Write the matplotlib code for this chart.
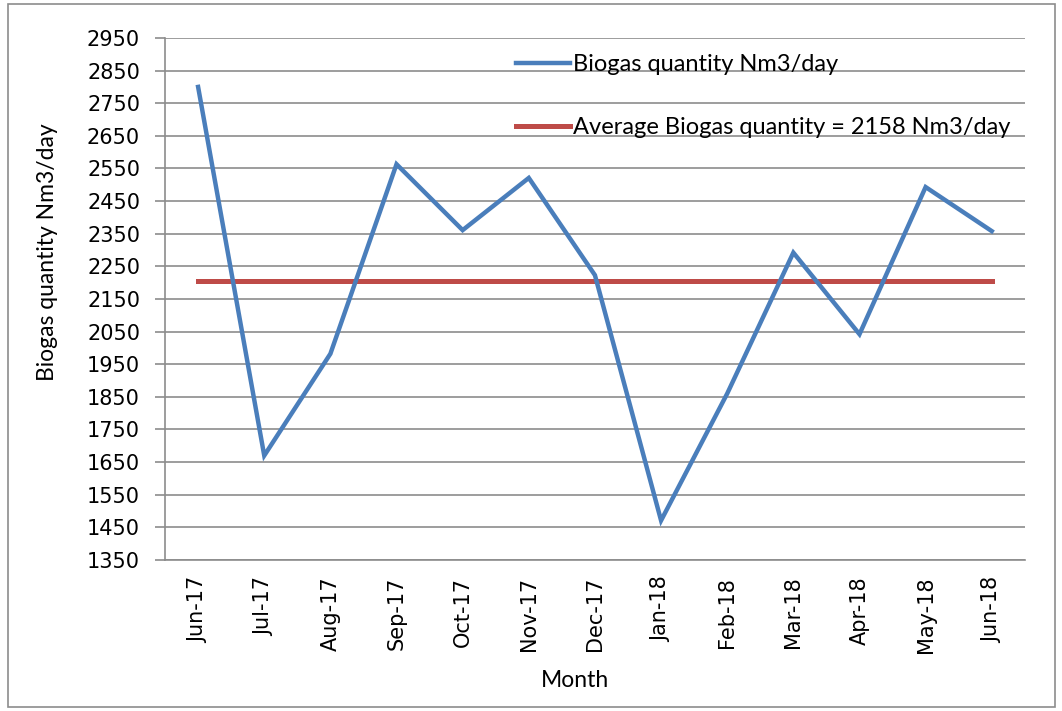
import matplotlib
matplotlib.use('Agg')
import matplotlib.pyplot as plt
import numpy as np

# data
months = ['Jun-17', 'Jul-17', 'Aug-17', 'Sep-17', 'Oct-17', 'Nov-17', 'Dec-17',
          'Jan-18', 'Feb-18', 'Mar-18', 'Apr-18', 'May-18', 'Jun-18']
biogas = [2800, 1670, 1982, 2563, 2361, 2521, 2223, 1471, 1860, 2292, 2042, 2493, 2358]
average = [2205] * len(months)
yticks = np.arange(1350, 2951, 100)

blue = '#4A7EBB'
red = '#BE4B48'
grid_c = '#8C8C8C'

fig = plt.figure(figsize=(10.62, 7.11), dpi=100)
ax = fig.add_axes([0.1554, 0.2124, 0.8096, 0.7342])

x = np.arange(len(months))
ax.plot(x, biogas, color=blue, lw=3.2, solid_joinstyle='miter',
        label='Biogas quantity Nm3/day', zorder=3)
ax.plot(x, average, color=red, lw=3.6,
        label='Average Biogas quantity = 2158 Nm3/day', zorder=2)

ax.set_xlim(-0.5, len(months) - 0.5)
ax.set_ylim(1350, 2950)
ax.set_yticks(yticks)
ax.set_yticklabels([str(v) for v in yticks], fontsize=15, family='DejaVu Sans')
ax.set_xticks(x)
ax.set_xticklabels(months, rotation=90, fontsize=15, family='DejaVu Sans')
ax.tick_params(axis='x', length=0, pad=12)
ax.tick_params(axis='y', length=7, color=grid_c, width=1.2, pad=11)

ax.grid(axis='y', color=grid_c, lw=1.2)
ax.set_axisbelow(True)
for s in ['top', 'right']:
    ax.spines[s].set_visible(False)
ax.spines['left'].set_color(grid_c)
ax.spines['bottom'].set_color(grid_c)
ax.spines['left'].set_linewidth(1.2)
ax.spines['bottom'].set_linewidth(1.2)

ax.set_xlabel('Month', fontsize=16.5, family='Lato')
ax.xaxis.set_label_coords(0.477, -0.21)
ax.set_ylabel('Biogas quantity Nm3/day', fontsize=16.5, family='Lato')
ax.yaxis.set_label_coords(-0.124, 0.59)

leg = ax.legend(loc='upper left', bbox_to_anchor=(0.383, 1.01), frameon=False,
                prop={'family': 'Lato', 'size': 17}, handlelength=2.3,
                handletextpad=0.15, labelspacing=1.8)

# outer chart border like the spreadsheet export
fig.patches.append(plt.Rectangle((0.008, 0.005), 0.985, 0.99, transform=fig.transFigure,
                                 fill=False, edgecolor='#8C8C8C', lw=1.2))

fig.savefig('out.png', dpi=100)
